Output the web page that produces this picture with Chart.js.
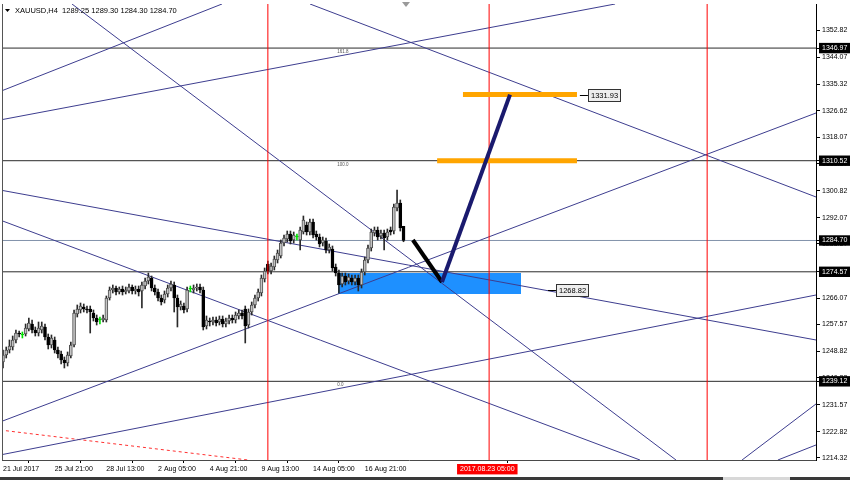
<!DOCTYPE html>
<html><head><meta charset="utf-8">
<script src="https://cdn.jsdelivr.net/npm/chart.js@4/dist/chart.umd.min.js"></script>
<style>html,body{margin:0;padding:0;background:#fff}canvas{display:block}</style>
</head><body>
<canvas id="c" width="850" height="480"></canvas>
<script>
// ---------- data ----------
const symbolTitle = 'XAUUSD,H4';
const lastQuote = ['1289.25', '1289.30', '1284.30', '1284.70'];

const xTickIndex = [0, 16, 32, 48, 64, 80, 96, 112];
const xTickLabels = ['21 Jul 2017', '25 Jul 21:00', '28 Jul 13:00', '2 Aug 05:00', '4 Aug 21:00', '9 Aug 13:00', '14 Aug 05:00', '16 Aug 21:00'];
const markerIndex = 141.5;
const markerLabel = '2017.08.23 05:00';

const yTicks = [1352.82, 1344.07, 1335.32, 1326.62, 1318.07, 1309.57, 1300.82, 1292.07, 1283.57, 1274.82, 1266.07, 1257.57, 1248.82, 1240.32, 1231.57, 1222.82, 1214.32];
const levelPrices = [1346.97, 1310.52, 1274.57, 1239.12];
const currentPrice = 1284.70;
const levelTagIdx = 103.5;
const levelTagPrices = [1346.97, 1310.52, 1239.12];
const levelTagText = ['161.8', '100.0', '0.0'];

const openP = [1245.38,1247.64,1249.26,1250.23,1252.50,1254.76,1254.12,1254.44,1256.06,1257.68,
1255.74,1254.76,1255.74,1256.71,1253.47,1250.88,1252.50,1249.26,1247.97,1246.03,
1245.06,1247.32,1250.88,1260.91,1262.21,1263.18,1262.53,1262.53,1261.24,1259.62,
1258.97,1258.97,1258.97,1266.09,1268.68,1269.33,1268.03,1269.00,1268.03,1268.36,
1269.65,1268.36,1269.00,1268.36,1269.97,1271.59,1272.56,1269.33,1268.03,1266.09,
1265.44,1267.39,1269.33,1270.30,1266.09,1263.18,1263.50,1262.53,1269.00,1268.68,
1269.33,1269.65,1268.68,1257.03,1258.65,1258.32,1258.97,1258.32,1259.29,1257.68,
1258.65,1259.62,1258.97,1260.27,1261.24,1262.53,1257.35,1261.56,1263.83,1266.09,
1267.71,1272.24,1277.09,1274.83,1276.12,1278.39,1279.68,1283.89,1285.19,1286.80,
1284.86,1285.83,1284.86,1287.45,1289.72,1287.45,1290.69,1286.80,1285.83,1283.89,
1284.54,1281.62,1281.95,1276.12,1274.18,1270.62,1273.21,1271.59,1272.56,1271.27,
1272.56,1270.30,1274.51,1278.39,1282.27,1287.13,1288.10,1286.16,1287.13,1285.83,
1288.10,1287.77,1295.22,1296.84,1289.25];
const highP = [1249.26,1250.23,1252.50,1253.79,1255.74,1255.41,1255.09,1257.68,1259.62,1258.97,
1256.71,1258.32,1258.32,1257.68,1254.44,1254.12,1253.47,1250.23,1248.94,1247.00,
1248.62,1251.85,1262.21,1263.83,1264.47,1264.15,1263.50,1263.50,1262.21,1260.59,
1259.94,1260.59,1266.74,1269.65,1270.30,1269.97,1269.65,1269.97,1269.65,1270.62,
1270.30,1269.97,1269.97,1271.27,1272.56,1274.18,1273.21,1270.30,1269.00,1267.06,
1268.36,1270.30,1271.59,1271.27,1267.06,1265.12,1264.47,1269.65,1269.97,1270.30,
1270.62,1270.62,1269.65,1260.27,1259.62,1259.94,1259.94,1260.27,1260.27,1259.62,
1260.59,1260.59,1261.56,1262.21,1262.21,1263.50,1262.53,1264.80,1267.06,1269.00,
1273.53,1275.80,1278.07,1277.42,1279.68,1281.62,1284.86,1286.48,1287.77,1287.77,
1287.45,1286.80,1289.07,1292.63,1290.69,1291.66,1291.66,1287.77,1286.80,1285.83,
1285.51,1283.57,1282.92,1277.09,1275.15,1274.18,1274.18,1273.86,1273.53,1273.53,
1273.53,1275.48,1279.36,1283.24,1288.42,1289.07,1289.07,1288.10,1288.10,1288.42,
1289.07,1296.51,1301.04,1297.81,1289.30];
const lowP = [1243.44,1246.67,1248.29,1249.26,1251.53,1253.47,1253.15,1253.79,1255.41,1254.76,
1253.79,1253.79,1254.76,1252.50,1249.59,1249.91,1248.29,1246.67,1244.73,1243.44,
1244.08,1246.67,1250.23,1259.94,1261.24,1261.56,1261.24,1254.76,1258.65,1257.35,
1257.68,1258.32,1258.32,1265.44,1267.71,1267.06,1267.39,1267.06,1267.39,1267.71,
1267.39,1267.39,1266.74,1262.86,1269.00,1270.62,1268.36,1267.06,1265.12,1263.83,
1264.47,1266.41,1268.36,1261.56,1256.71,1262.21,1261.24,1261.56,1268.03,1267.71,
1268.36,1267.71,1255.74,1256.06,1257.03,1257.35,1257.03,1257.35,1256.71,1256.71,
1257.68,1258.00,1258.00,1259.29,1259.29,1251.53,1256.38,1260.59,1262.86,1265.12,
1266.74,1271.27,1273.86,1273.86,1275.15,1277.42,1279.04,1282.92,1284.21,1283.57,
1283.89,1284.86,1281.62,1286.80,1286.48,1286.48,1285.51,1284.86,1282.60,1282.92,
1280.65,1280.65,1274.83,1273.21,1267.71,1269.65,1270.30,1270.62,1270.30,1270.30,
1268.36,1269.33,1273.53,1277.42,1281.30,1286.16,1284.86,1285.19,1281.62,1284.86,
1286.48,1286.80,1294.25,1287.77,1284.30];
const closeP = [1247.64,1249.26,1250.56,1252.50,1254.76,1254.44,1254.12,1256.38,1258.00,1255.74,
1254.76,1256.38,1257.03,1253.47,1250.88,1253.15,1249.26,1247.97,1246.03,1245.06,
1247.64,1250.88,1261.24,1262.53,1263.50,1262.53,1262.21,1261.56,1259.62,1258.32,
1258.97,1259.62,1266.09,1268.68,1269.33,1268.03,1269.00,1268.03,1268.68,1269.65,
1268.36,1269.00,1268.03,1270.30,1271.59,1272.89,1269.33,1268.03,1266.09,1264.80,
1267.39,1269.33,1270.62,1266.09,1263.18,1264.15,1262.21,1268.68,1269.00,1269.33,
1269.65,1268.68,1256.71,1258.97,1258.32,1258.97,1258.00,1259.29,1257.68,1258.65,
1259.62,1258.97,1260.59,1261.24,1260.27,1257.03,1261.56,1263.83,1266.09,1268.03,
1272.56,1274.83,1274.83,1276.45,1278.71,1280.65,1283.89,1285.51,1286.80,1284.54,
1286.48,1285.83,1288.10,1291.33,1287.45,1290.69,1286.48,1285.83,1283.57,1284.86,
1281.62,1282.60,1275.80,1274.18,1270.30,1273.21,1271.27,1272.89,1271.27,1272.56,
1270.30,1274.51,1278.39,1282.27,1287.45,1288.10,1285.83,1287.13,1285.51,1287.45,
1287.45,1295.54,1296.84,1288.74,1284.70];

// trend lines: [barIndex1, price1, barIndex2, price2]
const trendLines = [
  [-0.93, 1332.92, 67.8, 1361.24],
  [-0.93, 1323.70, 189.5, 1361.24],
  [21.36, 1361.24, 208.36, 1213.66],
  [-0.93, 1301.04, 251.7, 1252.50],
  [-0.93, 1225.96, 251.7, 1325.96],
  [-0.93, 1215.28, 251.7, 1267.06],
  [-0.93, 1291.33, 197.2, 1213.66],
  [95.05, 1361.24, 251.7, 1298.78],
  [228.8, 1213.66, 251.7, 1231.79],
  [239.9, 1213.66, 251.7, 1218.52]
];
const redDashLine = [-0.93, 1223.37, 75.85, 1213.66];
const verticalIdx = [82, 150.5, 218];
const swingDown = [126.9, 1284.86, 135.9, 1271.27];
const swingUp = [135.9, 1271.27, 156.97, 1331.93];
const targetLines = [[142.4, 177.7, 1331.93], [134.4, 177.7, 1310.52]];
const zoneBox = [103.7, 160.4, 1267.39, 1274.18];
const priceTags = [[181.1, 178.6, 1331.93, '1331.93'], [171.2, 168.7, 1268.82, '1268.82']];

const X_MIN = -0.31, X_MAX = 251.7, Y_MIN = 1213.66, Y_MAX = 1361.24;
const FONT = '"Liberation Sans", Arial, sans-serif';
const TREND = '#3d3d8f';

// ---------- datasets ----------
function seg(x1, y1, x2, y2, color, width, order, dash) {
  return { type: 'line', data: [{x: x1, y: y1}, {x: x2, y: y2}], borderColor: color, borderWidth: width,
    pointRadius: 0, fill: false, tension: 0, order: order, borderDash: dash || [], clip: 0, borderCapStyle: 'butt' };
}
const isDoji = openP.map((o, i) => o === closeP[i]);
const isUp = openP.map((o, i) => closeP[i] > o);

const datasets = [];
datasets.push({ type: 'line', data: [{x: zoneBox[0], y: zoneBox[3]}, {x: zoneBox[1], y: zoneBox[3]}],
  borderWidth: 0, borderColor: 'rgba(0,0,0,0)', pointRadius: 0, backgroundColor: '#1E90FF',
  fill: {value: zoneBox[2]}, order: 20, clip: 0 });
levelPrices.forEach(p => datasets.push(seg(X_MIN, p, X_MAX, p, '#2b2b2b', 1, 19)));
datasets.push(seg(X_MIN, currentPrice, X_MAX, currentPrice, '#8393ab', 1, 19));
trendLines.forEach(t => datasets.push(seg(t[0], t[1], t[2], t[3], TREND, 1, 18)));
datasets.push(seg(redDashLine[0], redDashLine[1], redDashLine[2], redDashLine[3], '#ff3030', 1, 18, [3, 3]));
datasets.push({ type: 'bar', data: openP.map((o, i) => ({x: i, y: [lowP[i], highP[i]]})),
  backgroundColor: isDoji.map(d => d ? '#00e000' : '#2a2a2a'), barThickness: 1, grouped: false, order: 11 });
datasets.push({ type: 'bar', data: openP.map((o, i) => ({x: i, y: [o, closeP[i]]})),
  backgroundColor: openP.map((o, i) => isDoji[i] ? '#00e000' : (isUp[i] ? '#c4c4c4' : '#000000')),
  borderColor: openP.map((o, i) => isDoji[i] ? '#00e000' : (isUp[i] ? '#505050' : '#000000')),
  borderWidth: 1, borderSkipped: false, barThickness: 3, minBarLength: 1, grouped: false, order: 10 });
verticalIdx.forEach(v => datasets.push(seg(v, Y_MIN, v, Y_MAX, '#ff0000', 1, 8)));
targetLines.forEach(t => datasets.push(seg(t[0], t[2], t[1], t[2], '#FFA500', 5, 6)));
datasets.push(seg(swingDown[0], swingDown[1], swingDown[2], swingDown[3], '#000000', 4, 4));
datasets.push(seg(swingUp[0], swingUp[1], swingUp[2], swingUp[3], '#1a1a6e', 4, 3));

const hlSet = new Set(levelPrices.concat([currentPrice]));

const overlay = {
  id: 'overlay',
  afterDraw(chart) {
    const {ctx, chartArea: a, scales: {x, y}} = chart;
    ctx.save();
    ctx.strokeStyle = '#555';
    ctx.lineWidth = 1;
    ctx.beginPath(); ctx.moveTo(a.left + 0.5, a.top); ctx.lineTo(a.left + 0.5, a.bottom); ctx.stroke();
    ctx.fillStyle = '#3a3a3a';
    ctx.fillRect(0, 477, 850, 3);
    ctx.fillStyle = '#d8d8d8';
    ctx.fillRect(723, 477, 67, 3);
    ctx.fillStyle = '#9a9a9a';
    ctx.beginPath(); ctx.moveTo(402, a.top - 2); ctx.lineTo(410, a.top - 2); ctx.lineTo(406, a.top + 3); ctx.closePath(); ctx.fill();
    ctx.fillStyle = '#000';
    ctx.beginPath(); ctx.moveTo(5, 9); ctx.lineTo(10, 9); ctx.lineTo(7.5, 12); ctx.closePath(); ctx.fill();
    ctx.font = '7.5px ' + FONT;
    ctx.textBaseline = 'middle';
    ctx.textAlign = 'left';
    ctx.fillText(symbolTitle + '  ' + lastQuote.join(' '), 15, 11);
    // small level tags
    ctx.font = '4.5px ' + FONT;
    ctx.fillStyle = '#555';
    ctx.textBaseline = 'top';
    levelTagPrices.forEach((p, i) => {
      ctx.fillText(levelTagText[i], x.getPixelForValue(levelTagIdx), y.getPixelForValue(p) + 1.5);
    });
    ctx.textBaseline = 'middle';
    ctx.font = '7.5px ' + FONT;
    priceTags.forEach(t => {
      const bx = x.getPixelForValue(t[0]);
      const dx = x.getPixelForValue(t[1]);
      const py = Math.round(y.getPixelForValue(t[2])) + 0.5;
      ctx.strokeStyle = '#000';
      ctx.beginPath(); ctx.moveTo(dx, py); ctx.lineTo(bx, py); ctx.stroke();
      const w = ctx.measureText(t[3]).width + 5;
      ctx.fillStyle = '#eeeeee';
      ctx.fillRect(bx, py - 6, w, 12);
      ctx.strokeStyle = '#333';
      ctx.strokeRect(Math.round(bx) + 0.5, py - 6, Math.round(w), 12);
      ctx.fillStyle = '#000';
      ctx.fillText(t[3], bx + 3, py);
    });
    ctx.restore();
  }
};

new Chart(document.getElementById('c'), {
  type: 'bar',
  data: { datasets },
  plugins: [overlay],
  options: {
    responsive: false,
    animation: false,
    events: [],
    layout: { padding: { left: 2, top: 4, right: 0, bottom: 0 } },
    plugins: { legend: { display: false }, tooltip: { enabled: false } },
    scales: {
      x: {
        type: 'linear', min: X_MIN, max: X_MAX, offset: false, bounds: 'data',
        afterBuildTicks: s => { s.ticks = xTickIndex.concat([markerIndex]).map(v => ({value: v})); },
        afterFit: s => { s.height = 20; s.paddingLeft = 0; s.paddingRight = 0; },
        grid: { drawOnChartArea: false, drawTicks: true, tickLength: 3,
          tickColor: c => (c.tick && c.tick.value === markerIndex) ? 'rgba(0,0,0,0)' : '#000' },
        border: { display: true, color: '#4a4a4a' },
        ticks: {
          autoSkip: false, maxRotation: 0, minRotation: 0, align: 'start', padding: 2,
          font: { family: FONT, size: 7 },
          color: c => (c.tick && c.tick.value === markerIndex) ? '#fff' : '#000',
          showLabelBackdrop: c => !!(c.tick && c.tick.value === markerIndex),
          backdropColor: '#ff0000',
          backdropPadding: { left: 3, right: 3, top: 1, bottom: 1 },
          callback: v => { const k = xTickIndex.indexOf(v); return k >= 0 ? xTickLabels[k] : (v === markerIndex ? markerLabel : ''); }
        }
      },
      y: {
        type: 'linear', position: 'right', min: Y_MIN, max: Y_MAX, bounds: 'data',
        afterBuildTicks: s => { s.ticks = yTicks.concat(levelPrices, [currentPrice]).map(v => ({value: v})); },
        afterFit: s => { s.width = 34; s.paddingTop = 0; s.paddingBottom = 0; },
        grid: { drawOnChartArea: false, drawTicks: true, tickLength: 4, tickColor: '#000' },
        border: { display: true, color: '#000' },
        ticks: {
          autoSkip: false, padding: 2,
          font: { family: FONT, size: 7 },
          color: c => (c.tick && hlSet.has(c.tick.value)) ? '#fff' : '#000',
          showLabelBackdrop: c => !!(c.tick && hlSet.has(c.tick.value)),
          backdropColor: '#000',
          backdropPadding: { left: 3, right: 4, top: 1, bottom: 1 },
          callback: v => v.toFixed(2)
        }
      }
    }
  }
});
</script>
</body></html>
